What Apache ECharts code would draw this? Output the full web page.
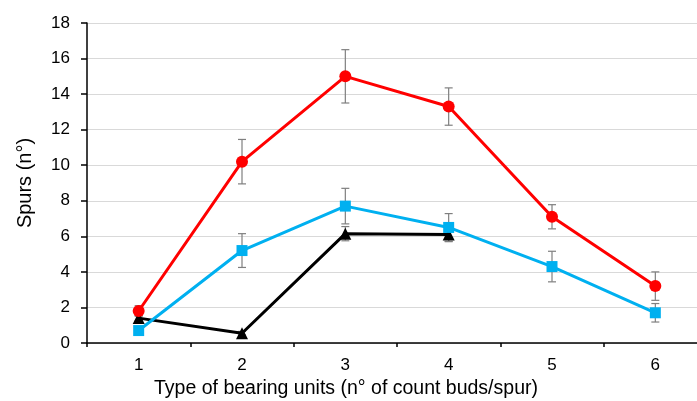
<!DOCTYPE html>
<html>
<head>
<meta charset="utf-8">
<script src="https://cdn.jsdelivr.net/npm/echarts@6/dist/echarts.min.js"></script>
<style>html,body{margin:0;padding:0;background:#fff}#c{width:697px;height:401px}</style>
</head>
<body>
<div id="c"></div>
<script>
const categories = ['1', '2', '3', '4', '5', '6'];
const redValues = [1.8, 10.2, 15.0, 13.3, 7.1, 3.2];
const redErrors = [0.3, 1.25, 1.5, 1.05, 0.68, 0.8];
const blueValues = [0.7, 5.2, 7.7, 6.5, 4.3, 1.7];
const blueErrors = [0.2, 0.95, 1.0, 0.78, 0.86, 0.52];
const blackValues = [1.4, 0.55, 6.15, 6.1];
const blackErrors = [0.15, 0.1, 0.4, 0.4];
const yTicks = [0, 2, 4, 6, 8, 10, 12, 14, 16, 18];

function errData(vals, errs) {
  return vals.map((v, i) => [i, v - errs[i], v + errs[i]]);
}
function errSeries(vals, errs) {
  return {
    type: 'custom',
    z: 1,
    silent: true,
    clip: false,
    data: errData(vals, errs),
    renderItem: function (params, api) {
      const x = api.value(0);
      const lo = api.coord([x, api.value(1)]);
      const hi = api.coord([x, api.value(2)]);
      const hw = 4;
      const st = { stroke: '#7f7f7f', lineWidth: 1.2 };
      return {
        type: 'group',
        children: [
          { type: 'line', shape: { x1: lo[0], y1: lo[1], x2: hi[0], y2: hi[1] }, style: st },
          { type: 'line', shape: { x1: lo[0] - hw, y1: lo[1], x2: lo[0] + hw, y2: lo[1] }, style: st },
          { type: 'line', shape: { x1: hi[0] - hw, y1: hi[1], x2: hi[0] + hw, y2: hi[1] }, style: st }
        ]
      };
    }
  };
}
function lineSeries(vals, color, symbol, size) {
  return {
    type: 'line',
    z: 3,
    data: vals,
    symbol: symbol,
    symbolSize: size,
    lineStyle: { color: color, width: 3 },
    itemStyle: { color: color },
    animation: false
  };
}

const chart = echarts.init(document.getElementById('c'), null, { renderer: 'canvas' });
chart.setOption({
  animation: false,
  grid: { left: 87, width: 620, top: 23, height: 320, containLabel: false, outerBoundsMode: 'none' },
  xAxis: {
    type: 'category',
    data: categories,
    boundaryGap: true,
    name: 'Type of bearing units (n° of count buds/spur)',
    nameLocation: 'middle',
    nameGap: 33,
    nameTextStyle: { fontFamily: 'Liberation Sans, Arial', fontSize: 19.5, color: '#000', padding: [0, 102, 0, 0] },
    axisLine: { lineStyle: { color: '#000', width: 1.5 } },
    axisTick: { show: true, length: 4, lineStyle: { color: '#000', width: 1.5 } },
    axisLabel: { fontFamily: 'Liberation Sans, Arial', fontSize: 17, color: '#000', margin: 14 },
    splitLine: { show: false }
  },
  yAxis: {
    type: 'value',
    min: yTicks[0],
    max: yTicks[yTicks.length - 1],
    interval: 2,
    name: 'Spurs (n°)',
    nameLocation: 'middle',
    nameGap: 52,
    nameTextStyle: { fontFamily: 'Liberation Sans, Arial', fontSize: 20, color: '#000' },
    axisLine: { show: true, lineStyle: { color: '#000', width: 1.5 } },
    axisTick: { show: true, length: 6, lineStyle: { color: '#000', width: 1.5 } },
    axisLabel: { fontFamily: 'Liberation Sans, Arial', fontSize: 17, color: '#000', margin: 17 },
    splitLine: { show: true, lineStyle: { color: '#d9d9d9', width: 1.2 } }
  },
  series: [
    errSeries(redValues, redErrors),
    errSeries(blueValues, blueErrors),
    errSeries(blackValues, blackErrors),
    lineSeries(blackValues, '#000000', 'triangle', 12),
    lineSeries(blueValues, '#00B0F0', 'rect', 11),
    lineSeries(redValues, '#FF0000', 'circle', 12)
  ]
});
</script>
</body>
</html>
